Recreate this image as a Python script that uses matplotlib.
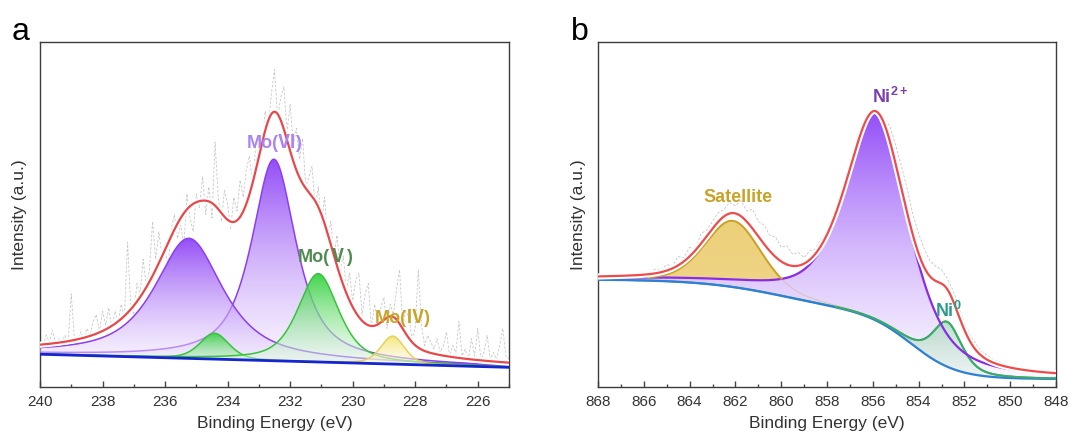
import numpy as np
import matplotlib
matplotlib.use("Agg")
import matplotlib.pyplot as plt
from matplotlib import patheffects as pe
from matplotlib.colors import to_rgb
from matplotlib.ticker import MultipleLocator

plt.rcParams["font.family"] = ["Liberation Sans", "Noto Sans CJK SC", "DejaVu Sans"]
plt.rcParams["mathtext.fontset"] = "custom"
plt.rcParams["mathtext.rm"] = "Liberation Sans"
plt.rcParams["mathtext.bf"] = "Liberation Sans:bold"

# ---------------- Panel a : Mo 3d ----------------
mo_start, mo_step = 240.0, 0.1
mo_raw = [14, 12, 15, 13, 16.5, 12.5, 14, 13, 15, 13,
          27, 14, 12, 16, 14, 17, 15, 19, 21, 16,
          22, 18, 23, 17, 22, 19, 24, 20, 42, 24,
          21, 30, 27, 37, 29, 34, 48, 37, 45, 38,
          40, 35, 46, 50, 43, 47, 41, 56, 49, 45,
          56, 52, 61, 50, 58, 49, 71, 55, 48, 57,
          53, 46, 55, 51, 60, 55, 63, 67, 59, 70,
          72, 68, 80, 75, 85, 92, 78, 84, 87, 74,
          82, 70, 75, 66, 72, 58, 61, 64, 52, 58,
          47, 55, 43, 48, 38, 44, 34, 38, 28, 33,
          25, 31, 33, 21, 27, 30, 17, 24, 19, 23,
          26, 17, 24, 21, 28, 34, 18, 22, 20, 14,
          17, 34, 18, 12, 15, 13, 11, 14, 10, 12,
          16, 9, 12, 10, 19, 9, 11, 8, 14, 9,
          17, 8, 10, 15, 8, 10, 8, 12, 17, 9,
          8]
mo_xlim = (240.0, 225.0)
mo_bg_ends = [9.5, 5.7]          # linear background at 240 eV and 225 eV
mo_centers = [232.52, 235.24, 234.42, 231.10, 228.72]
mo_heights = [58.4, 34.8, 7.5, 25.6, 8.1]
mo_fwhm = [1.70, 2.60, 1.10, 1.55, 0.90]
mo_lor = [0.8, 0.8, 0.4, 0.6, 0.4]
mo_state = ["VI", "VI", "V", "V", "IV"]
mo_env_residual = (233.0, 3.5, 6.0)   # centre, height, width of envelope excess over the components
mo_labels = ["Mo(Ⅵ)", "Mo(Ⅴ)", "Mo(Ⅳ)"]
mo_label_pos = [(232.5, 70.6), (230.85, 37.7), (228.4, 20.0)]

# ---------------- Panel b : Ni 2p ----------------
ni_start, ni_step = 868.0, 0.25
ni_raw = [32.5, 32.3, 32.6, 32.2, 32.8, 32.4, 33.0, 32.6,
          33.3, 33.0, 34.2, 33.8, 35.5, 35.0, 37.8, 37.5,
          40.5, 40.0, 44.5, 45.5, 48.0, 50.5, 51.5, 53.5,
          52.5, 54.0, 51.0, 51.5, 48.0, 47.0, 44.0, 43.5,
          40.5, 41.0, 38.5, 39.0, 37.5, 39.5, 40.0, 43.0,
          44.5, 48.0, 52.0, 56.5, 62.5, 67.5, 73.0, 77.5,
          79.5, 80.5, 78.0, 75.5, 70.0, 64.0, 57.5, 50.0,
          44.5, 40.0, 36.5, 35.0, 34.0, 31.5, 28.0, 23.5,
          18.5, 15.0, 12.5, 10.3, 9.2, 8.0, 7.4, 6.8,
          6.4, 6.0, 5.7, 5.4, 5.1, 4.9, 4.7, 4.6,
          4.4]
ni_xlim = (868.0, 848.0)
ni_bg_low = 2.3
ni_bg_centers = [854.3, 860.0]
ni_bg_widths = [1.0, 1.8]
ni_bg_heights = [19.5, 9.4]
ni_names = ["Ni2+", "Satellite", "Ni0"]
ni_centers = [855.85, 862.10, 852.75]
ni_heights = [60.0, 19.2, 13.0]
ni_fwhm = [3.2, 2.9, 1.5]
ni_lor = [0.6, 0.3, 0.5]
ni_label_text = [r"$\mathbf{Ni^{2+}}$", "Satellite", r"$\mathbf{Ni^{0}}$"]
ni_label_pos = [(855.25, 84.0), (861.9, 55.0), (852.7, 22.0)]


def pv(x, c, h, w, m):
    d2 = 4.0 * (x - c) ** 2 / w ** 2
    return h * ((1 - m) * np.exp(-np.log(2) * d2) + m / (1 + d2))


def gradient_fill(ax, x, ylow, yhigh, color, z, a_top=0.92, a_bot=0.45, light_bot=0.92, light_top=0.0):
    poly = ax.fill_between(x, ylow, yhigh, facecolor="none", edgecolor="none", zorder=z)
    path = poly.get_paths()[0]
    ymin = float(np.min(ylow))
    ymax = float(np.max(yhigh))
    n = 256
    t = np.linspace(0, 1, n)[:, None]
    rgb = np.array(to_rgb(color))[None, None, :]
    mix = (light_bot + (light_top - light_bot) * t)[..., None]
    cols = rgb * (1 - mix) + mix
    alpha = (a_bot + (a_top - a_bot) * t)[..., None]
    img = np.concatenate([cols, alpha], axis=2)
    im = ax.imshow(img, extent=[x.min(), x.max(), ymin, ymax], origin="lower",
                   aspect="auto", zorder=z, interpolation="bilinear")
    im.set_clip_path(path, transform=ax.transData)


def style_axes(ax, xlim):
    ax.set_xlim(*xlim)
    ax.set_ylim(0, 100)
    ax.set_yticks([])
    ax.xaxis.set_major_locator(MultipleLocator(2))
    ax.xaxis.set_minor_locator(MultipleLocator(1))
    ax.tick_params(axis="x", which="major", direction="in", length=4.5, width=1.0,
                   color="#444444", labelcolor="#333333", labelsize=11, pad=6)
    ax.tick_params(axis="x", which="minor", direction="in", length=2.5, width=1.0, color="#444444")
    for s in ax.spines.values():
        s.set_color("#3c3c3c")
        s.set_linewidth(1.0)
    ax.set_xlabel("Binding Energy (eV)", fontsize=12.5, color="#333333", labelpad=5)
    ax.set_ylabel("Intensity (a.u.)", fontsize=12.5, color="#333333", labelpad=9)


fig = plt.figure(figsize=(10.92, 4.44), dpi=100)
axa = fig.add_axes([40 / 1092, 57 / 444, 469 / 1092, 345 / 444])
axb = fig.add_axes([598 / 1092, 57 / 444, 458 / 1092, 345 / 444])

halo = [pe.withStroke(linewidth=4.5, foreground="white")]

# ---------- Panel a ----------
x = np.linspace(mo_xlim[0], mo_xlim[1], 1501)
bg = mo_bg_ends[0] + (mo_bg_ends[1] - mo_bg_ends[0]) * (mo_xlim[0] - x) / (mo_xlim[0] - mo_xlim[1])
comps = [pv(x, c, h, w, m) for c, h, w, m in zip(mo_centers, mo_heights, mo_fwhm, mo_lor)]
env = bg + np.sum(comps, axis=0) + pv(x, *mo_env_residual, 0.0)

xr = mo_start - mo_step * np.arange(len(mo_raw))
axa.plot(xr, mo_raw, color="#b4b4b4", lw=0.6, ls=(0, (3, 2)), alpha=0.75, zorder=1)

fill_col = {"VI": "#8a3cf5", "V": "#2fd03a", "IV": "#f3e36a"}
line_col = {"VI": "#8b3ff0", "V": "#37c43c", "IV": "#e6d25a"}
for i, (comp, st) in enumerate(zip(comps, mo_state)):
    z = 2 + i
    gradient_fill(axa, x, bg, bg + comp, fill_col[st], z)
    axa.plot(x, bg + comp, color=line_col[st], lw=1.1, zorder=z + 0.5)

axa.plot(x, bg, color="#1525d0", lw=2.0, zorder=10)
axa.plot(x, env, color="#e8484a", lw=1.6, zorder=11, path_effects=halo)

label_cols = ["#a884f5", "#4e8b4e", "#c9a428"]
for txt, (lx, ly), col in zip(mo_labels, mo_label_pos, label_cols):
    axa.text(lx, ly, txt, color=col, fontsize=13, fontweight="bold", ha="center", va="center", zorder=12)
style_axes(axa, mo_xlim)

# ---------- Panel b ----------
x = np.linspace(ni_xlim[0], ni_xlim[1], 2001)
bg = ni_bg_low + sum(h / (1 + np.exp(-(x - c) / w))
                     for c, w, h in zip(ni_bg_centers, ni_bg_widths, ni_bg_heights))
ni2, sat, ni0 = [pv(x, c, h, w, m) for c, h, w, m in zip(ni_centers, ni_heights, ni_fwhm, ni_lor)]
purple_line = bg + ni2
gold_line = bg + sat
green_line = bg + ni0
env = bg + ni2 + sat + ni0

xr = ni_start - ni_step * np.arange(len(ni_raw))
axb.plot(xr, ni_raw, color="#b0b0b0", lw=0.6, ls=(0, (3, 2)), alpha=0.75, zorder=1)

gradient_fill(axb, x, bg, purple_line, "#8e44f8", 2, a_top=0.95, a_bot=0.5, light_bot=0.93)
gradient_fill(axb, x, purple_line, np.maximum(gold_line, purple_line), "#e8c252", 3,
              a_top=0.92, a_bot=0.85, light_bot=0.3)
gradient_fill(axb, x, bg, green_line, "#35a862", 4, a_top=0.9, a_bot=0.45, light_bot=0.85, light_top=0.3)

axb.plot(x, gold_line, color="#d8b898", lw=0.8, alpha=0.6, zorder=5)
green_vis = np.where(ni0 > 0.15, green_line, np.nan)
axb.plot(x, green_line, color="#3daa6a", lw=1.4, zorder=6)
axb.plot(x, bg, color="#2e7fd8", lw=1.6, zorder=7)
axb.plot(x, green_vis, color="#3daa6a", lw=1.4, zorder=7.5)
axb.plot(x, purple_line, color="#8a2be8", lw=1.6, zorder=8)
gold_vis = np.where(gold_line >= purple_line, gold_line, np.nan)
axb.plot(x, gold_vis, color="#c9a227", lw=1.4, zorder=9)
axb.plot(x, env, color="#ee4b4b", lw=1.6, zorder=11, path_effects=halo)

ni_label_cols = ["#7b3fb0", "#c9a227", "#2e9c8c"]
for txt, (lx, ly), col in zip(ni_label_text, ni_label_pos, ni_label_cols):
    axb.text(lx, ly, txt, color=col, fontsize=13, fontweight="bold", ha="center", va="center", zorder=12)
style_axes(axb, ni_xlim)

fig.text(12 / 1092, 1 - 40 / 444, "a", fontsize=23, ha="left", va="baseline")
fig.text(571 / 1092, 1 - 40 / 444, "b", fontsize=23, ha="left", va="baseline")

fig.savefig("out.png", dpi=100)
